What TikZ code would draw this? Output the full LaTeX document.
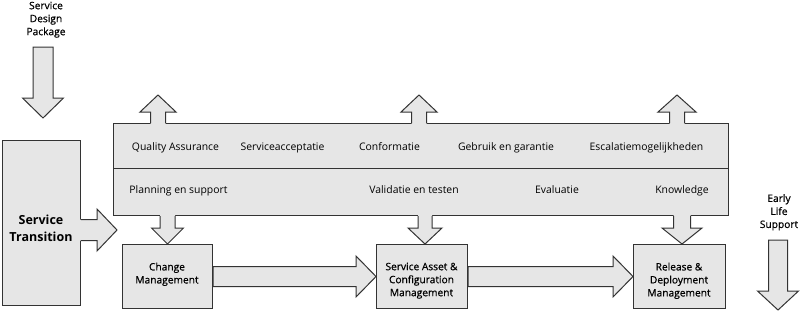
\documentclass[tikz,border=0pt]{standalone}
\usepackage{fontspec}
\setmainfont{Open Sans}
\newfontfamily\medfont[FakeBold=0.6]{Open Sans}
\usetikzlibrary{calc}
\definecolor{bfill}{HTML}{E6E6E6}
\definecolor{bline}{HTML}{333333}
\tikzset{
  ln/.style={draw=bline, line width=1pt, line join=miter},
  blk/.style={ln, fill=bfill},
  boxnode/.style={blk, rectangle, inner sep=0pt, anchor=north west},
  lbl/.style={font=\fontsize{10.4}{13}\selectfont, inner sep=0pt, text=black},
  boxlbl/.style={font=\medfont\fontsize{10.2}{13}\selectfont, inner sep=0pt, align=center, anchor=north, text=black},
  biglbl/.style={font=\bfseries\fontsize{12.5}{17}\selectfont, inner sep=0pt, align=center, text=black},
}
% vertical block arrow, closed: #1 start, #2 tip, #3 shaft half, #4 head half, #5 head length (sign gives direction)
\newcommand\blockV[5]{%
  \draw[blk] let \p1=(#1), \p2=(#2) in
    (\x2-#3,\y1) -- (\x2-#3,\y2+#5) -- (\x2-#4,\y2+#5) -- (\x2,\y2) --
    (\x2+#4,\y2+#5) -- (\x2+#3,\y2+#5) -- (\x2+#3,\y1) -- cycle;}
% horizontal block arrow, closed
\newcommand\blockH[5]{%
  \draw[blk] let \p1=(#1), \p2=(#2) in
    (\x1,\y2+#3) -- (\x2-#5,\y2+#3) -- (\x2-#5,\y2+#4) -- (\x2,\y2) --
    (\x2-#5,\y2-#4) -- (\x2-#5,\y2-#3) -- (\x1,\y2-#3) -- cycle;}
% vertical block arrow merged into a box: #6 = overlap shift into the box
\newcommand\mergeV[6]{%
  \fill[bfill] let \p1=(#1), \p2=(#2) in
    (\x2-#3,\y1+#6) -- (\x2-#3,\y2+#5) -- (\x2-#4,\y2+#5) -- (\x2,\y2) --
    (\x2+#4,\y2+#5) -- (\x2+#3,\y2+#5) -- (\x2+#3,\y1+#6) -- cycle;
  \draw[ln] let \p1=(#1), \p2=(#2) in
    (\x2-#3,\y1) -- (\x2-#3,\y2+#5) -- (\x2-#4,\y2+#5) -- (\x2,\y2) --
    (\x2+#4,\y2+#5) -- (\x2+#3,\y2+#5) -- (\x2+#3,\y1);}
\newcommand\mergeH[5]{%
  \fill[bfill] let \p1=(#1), \p2=(#2) in
    (\x1-1pt,\y2+#3) -- (\x2-#5,\y2+#3) -- (\x2-#5,\y2+#4) -- (\x2,\y2) --
    (\x2-#5,\y2-#4) -- (\x2-#5,\y2-#3) -- (\x1-1pt,\y2-#3) -- cycle;
  \draw[ln] let \p1=(#1), \p2=(#2) in
    (\x1,\y2+#3) -- (\x2-#5,\y2+#3) -- (\x2-#5,\y2+#4) -- (\x2,\y2) --
    (\x2-#5,\y2-#4) -- (\x2-#5,\y2-#3) -- (\x1,\y2-#3);}
\begin{document}
\begin{tikzpicture}[x=1pt,y=-1pt]
\useasboundingbox (0,0) rectangle (800,314);

% boxes
\node[boxnode, minimum width=78pt, minimum height=165pt] (st) at (2,140) {};
\node[boxnode, minimum width=615pt, minimum height=92pt] (main) at (113,123) {};
\draw[ln] (main.west |- 0,168) -- (main.east |- 0,168);
\node[boxnode, minimum width=90pt, minimum height=64pt] (cm) at (122,244) {};
\node[boxnode, minimum width=91pt, minimum height=64pt] (sacm) at (376,244) {};
\node[boxnode, minimum width=92pt, minimum height=64pt] (rdm) at (633,244) {};

% free ends
\coordinate (sdptop) at (43,47);
\coordinate (sdptip) at (43,118);
\coordinate (elstop) at (778,240);
\coordinate (elstip) at (778,310);
\coordinate (sttip) at (117,230);
\coordinate (up1) at (158,95);
\coordinate (up2) at (419,95);
\coordinate (up3) at (677,95);
\coordinate (dn2) at (425,244);
\coordinate (dn3) at (682,244);

% merged arrows
\mergeH{st.east}{sttip}{10.5pt}{21pt}{20pt}
\mergeV{main.north}{up1}{7.5pt}{18pt}{-17pt}{-1pt}
\mergeV{main.north}{up2}{7.5pt}{18pt}{-17pt}{-1pt}
\mergeV{main.north}{up3}{7.5pt}{19pt}{-17pt}{-1pt}
\mergeV{main.south}{cm.north}{7.5pt}{16pt}{16pt}{1pt}
\mergeV{main.south}{dn2}{7pt}{17pt}{16pt}{1pt}
\mergeV{main.south}{dn3}{8.5pt}{20pt}{16pt}{1pt}

% free arrows
\blockV{sdptop}{sdptip}{10pt}{20.5pt}{20pt}
\blockV{elstop}{elstip}{9.5pt}{20.5pt}{19pt}
\blockH{cm.east}{sacm.west}{10pt}{20.5pt}{20pt}
\blockH{sacm.east}{rdm.west}{10pt}{20.5pt}{20pt}

% texts
\node[boxlbl] (sdp) at (46,1.5) {Service\\Design\\Package};
\node[boxlbl] (els) at (779,194) {Early\\Life\\Support};
\node[biglbl] (stl) at (41,228.5) {Service\\Transition};
\node[boxlbl] (cml) at (167,262.5) {Change\\Management};
\node[boxlbl] (sacml) at (421.5,262.5) {Service Asset \&\\Configuration\\Management};
\node[boxlbl] (rdml) at (679,262.5) {Release \&\\Deployment\\Management};

\node[lbl, anchor=base] (qa) at (175.5,150.5) {Quality Assurance};
\node[lbl, anchor=base] (sa) at (282.5,150.5) {Serviceacceptatie};
\node[lbl, anchor=base] (co) at (389.5,150.5) {Conformatie};
\node[lbl, anchor=base] (gg) at (506,150.5) {Gebruik en garantie};
\node[lbl, anchor=base] (es) at (646.5,150.5) {Escalatiemogelijkheden};
\node[lbl, anchor=base] (ps) at (178.5,193) {Planning en support};
\node[lbl, anchor=base] (vt) at (414,193) {Validatie en testen};
\node[lbl, anchor=base] (ev) at (557,193) {Evaluatie};
\node[lbl, anchor=base] (kn) at (682,193) {Knowledge};
\end{tikzpicture}
\end{document}
